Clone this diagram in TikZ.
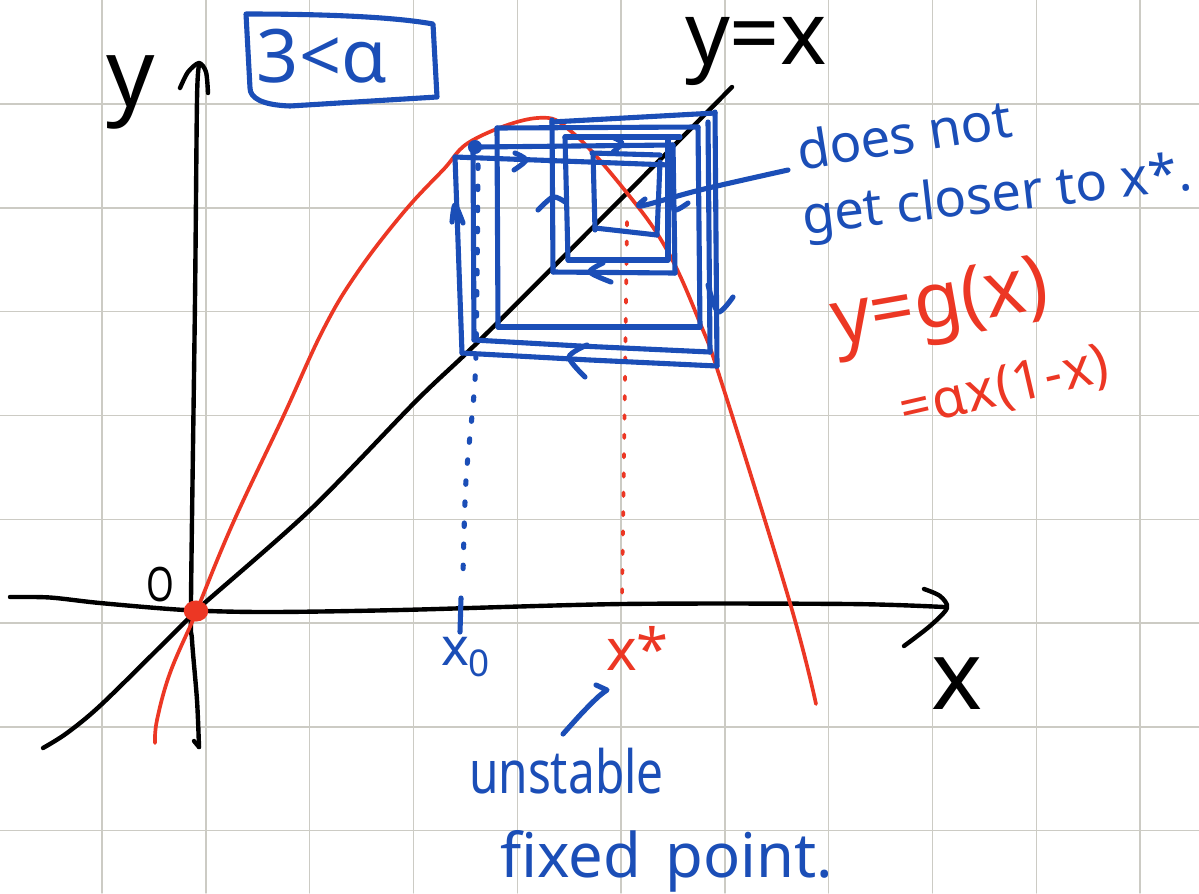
\documentclass[tikz,border=0pt]{standalone}
\usepackage{fontspec}
\setmainfont{Noto Sans}
\definecolor{pen}{RGB}{27,78,183}
\definecolor{redpen}{RGB}{236,55,36}
\definecolor{gridc}{RGB}{204,203,196}
\tikzset{
  blk/.style={draw=black, line width=2.5pt},
  bl/.style={draw=pen, line width=2.9pt},
  rd/.style={draw=redpen, line width=2.1pt},
  gridline/.style={draw=gridc, line width=0.8pt},
  lbl/.style={inner sep=0pt, outer sep=0pt},
}
\begin{document}
\begin{tikzpicture}[x=0.02cm, y=-0.02cm, line cap=round, line join=round]
\useasboundingbox (0,0) rectangle (1199,893);
\fill[white] (0,0) rectangle (1199,893);
% grid
\foreach \i in {0,...,10} \draw[gridline] ({102+103.8*\i},0) -- ({102+103.8*\i},893);
\foreach \j in {0,...,7} \draw[gridline] (0,{104+103.8*\j}) -- (1199,{104+103.8*\j});

% axes
\draw[blk] plot[smooth] coordinates {(10,597) (50,597.5) (100,603) (185,610) (267,612) (400,610) (622,604) (850,604) (944,607)};
\draw[blk] plot[smooth] coordinates {(924,589) (940,596) (947,608) (930,626) (904,646)};
\draw[blk] plot[smooth] coordinates {(199,747) (197,700) (192,640) (191,600) (195,300) (197,100) (199,66)};
\draw[blk] (199,747) -- (194,741);
\draw[blk] plot[smooth] coordinates {(180,88) (188,72) (199,63) (206,72) (208,93)};
% diagonal y=x
\draw[blk] plot[smooth] coordinates {(43,748) (67,733) (103,703) (187,620) (200,607) (310,510) (417,400) (480,340) (620,200) (732,87)};

% dotted guides
\draw[redpen, line width=2.1pt, dash pattern=on 2pt off 9pt] (627,222) -- (625,380) -- (622,600);
\draw[pen, line width=2.9pt, dash pattern=on 2pt off 10pt] plot[smooth] coordinates {(478,165) (477,280) (475,380) (466,480) (463,575)};

% parabola
\draw[rd] plot[smooth, tension=0.65] coordinates {(155,743) (157,720) (170,673) (193,620) (197,610) (233,523) (283,417) (323,330) (357,273) (403,213) (443,170) (473,140) (537,118) (573,133) (627,193) (667,250) (700,323) (723,387) (790,603) (816,704)};

% cobweb horizontals
\draw[bl] (552,122) -- (715,113);
\draw[bl] (497,128) -- (698,127);
\draw[bl] (565,137) -- (680,137);
\draw[bl] (478,147) -- (673,145);
\draw[bl] (592,153) -- (660,155);
\draw[bl] (455,157) -- (670,165);
\draw[bl] (595,228) -- (657,235);
\draw[bl] (568,260) -- (668,260);
\draw[bl] (553,272) -- (675,273);
\draw[bl] (498,327) -- (700,327);
\draw[bl] (474,340) -- (580,346) -- (710,352);
\draw[bl] (462,353) -- (590,360) -- (717,366);
% cobweb verticals
\draw[bl] (455,157) -- (462,353);
\draw[bl] (473,147) -- (474,340);
\draw[bl] (497,128) -- (498,327);
\draw[bl] (552,120) -- (553,272);
\draw[bl] (565,137) -- (568,260);
\draw[bl] (593,153) -- (595,230);
\draw[bl] (660,162) -- (657,235);
\draw[bl] (668,138) -- (668,260);
\draw[bl] (673,145) -- (675,273);
\draw[bl] (698,127) -- (700,327);
\draw[bl] (708,122) -- (710,352);
\draw[bl] (715,112) -- (717,366);
% arrow hooks
\draw[bl] plot[smooth] coordinates {(515,153) (526,160) (514,170)};
\draw[bl] plot[smooth] coordinates {(452,222) (455,205) (463,223)};
\draw[bl] plot[smooth] coordinates {(612,137) (622,143) (613,152)};
\draw[bl] plot[smooth] coordinates {(538,210) (553,197) (565,202)};
\draw[bl] plot[smooth] coordinates {(670,197) (675,210) (688,203)};
\draw[bl] plot[smooth] coordinates {(603,263) (590,272) (611,282)};
\draw[bl] plot[smooth] coordinates {(708,285) (718,312) (733,297)};
\draw[bl] plot[smooth] coordinates {(587,345) (569,357) (585,377)};

% points
\fill[pen] (475,147) circle (4pt);
\fill[redpen] (196,611) ellipse [x radius=7pt, y radius=6pt];

% x0 tick
\draw[bl] (461,598) -- (460,632);

% condition box
\draw[bl] (246,14) .. controls (340,14) and (400,18) .. (433,24) -- (437,97) -- (290,106) .. controls (262,105) and (250,98) .. (250,88) -- cycle;

% labels
\node[lbl, font=\fontsize{54}{60}\selectfont] (ylab) at (131,92) {y};
\node[lbl, text=pen, font=\fontsize{42}{48}\selectfont] (cond) at (322,56) {3<α};
\node[lbl, anchor=base west, font=\fontsize{50}{56}\selectfont] (yx) at (685,64) {y=x};
\node[lbl, anchor=base west, text=pen, rotate=9, font=\fontsize{30}{36}\selectfont] (l1) at (800,170) {does not};
\node[lbl, anchor=base west, text=pen, rotate=6.5, font=\fontsize{30}{36}\selectfont] (l2) at (804,234) {get closer to x*.};
\node[lbl, anchor=base west, text=redpen, rotate=10, font=\fontsize{44}{50}\selectfont] (g1) at (836,345) {y=g(x)};
\node[lbl, anchor=base west, text=redpen, rotate=13, font=\fontsize{31}{36}\selectfont] (g2) at (904,428) {=\kern1pt α\kern1pt x\kern1pt(1\kern1pt-\kern1pt x)};
\node[lbl, font=\fontsize{27}{32}\selectfont] (O) at (160,585) {\scalebox{0.75}[1]{O}};
\node[lbl, font=\fontsize{55}{60}\selectfont] (xl) at (957,684) {x};
\node[lbl, anchor=base west, text=pen, font=\fontsize{30}{36}\selectfont] (x0) at (441,665) {x\textsubscript{0}};
\node[lbl, anchor=base west, text=redpen, font=\fontsize{33}{38}\selectfont] (xs) at (606,670) {x*};
\node[lbl, anchor=base west, text=pen, font=\fontsize{34}{40}\selectfont] (u1) at (469,793) {\scalebox{0.8}[1]{unstable}};
\node[lbl, anchor=base west, text=pen, font=\fontsize{35}{40}\selectfont] (u2) at (500,877) {fixed\hspace{0.4em}point.};

% leaders
\draw[bl] plot[smooth] coordinates {(645,199) (641,206) (700,190) (788,170)};
\draw[bl] plot[smooth] coordinates {(563,734) (582,713) (598,697) (607,690)} -- (596,685);
\end{tikzpicture}
\end{document}
